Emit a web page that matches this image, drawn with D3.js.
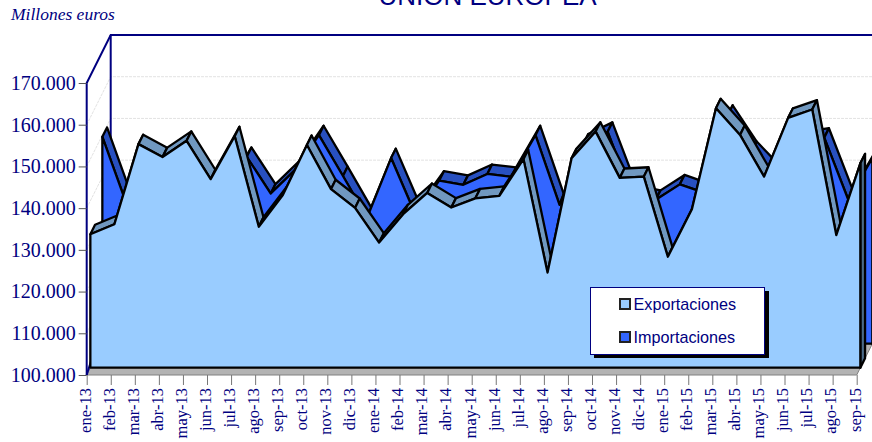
<!DOCTYPE html>
<html><head><meta charset="utf-8">
<script src="https://cdnjs.cloudflare.com/ajax/libs/d3/7.8.5/d3.min.js"></script>
<style>html,body{margin:0;padding:0;background:#fff}svg{display:block}</style>
</head><body><svg id="c" width="872" height="442"></svg>
<script>
const months=["ene-13","feb-13","mar-13","abr-13","may-13","jun-13","jul-13","ago-13","sep-13","oct-13","nov-13","dic-13","ene-14","feb-14","mar-14","abr-14","may-14","jun-14","jul-14","ago-14","sep-14","oct-14","nov-14","dic-14","ene-15","feb-15","mar-15","abr-15","may-15","jun-15","jul-15","ago-15","sep-15"];
const exportaciones=[132000,134400,153600,150500,154400,145200,155500,133800,141400,153400,142800,138300,130000,136800,141900,138400,140600,141200,150000,122800,150200,156600,145500,145800,126600,138000,162200,155800,145800,159900,161900,131800,149000];
const importaciones=[149600,133600,140000,142000,142000,135000,144800,136000,141600,150000,140200,130200,144500,131100,139100,138100,140700,140000,150000,133300,148000,150800,135700,134500,138200,136200,154900,146200,140200,148500,149400,134500,144500];
const yTicks=[100000,110000,120000,130000,140000,150000,160000,170000];
const NAVY="#000080";
const svg=d3.select("#c");
const x=d3.scalePoint().domain(months).range([86.7,856.7]);
const y=d3.scaleLinear().domain([100000,170000]).range([375,83]);
const depthX=24,depthY=-48;
const pt=(m,v,d)=>[x(m)+depthX*d,y(v)+depthY*d];
const fmt=d3.formatLocale({decimal:",",thousands:".",grouping:[3],currency:["","€"]}).format(",d");
const poly=a=>"M"+a.map(p=>p.join(",")).join("L")+"Z";
const vMin=y.domain()[0],vMax=y.domain()[1],m0=months[0],mN=months[months.length-1];

// floor
svg.append("path").attr("d",poly([pt(m0,vMin,0),pt(mN,vMin,0),pt(mN,vMin,1),pt(m0,vMin,1)])).attr("fill","#b3b3b3").attr("stroke","#808080").attr("stroke-width",1);

// grid on back wall and side wall
const grid=svg.append("g").attr("fill","none").attr("stroke","#e2e2e2").attr("stroke-width",1).attr("stroke-dasharray","3,1");
yTicks.slice(1,-1).forEach(t=>{
  grid.append("path").attr("d",d3.line()([pt(m0,t,0),pt(m0,t,1),pt(mN,t,1)]));
});

// frame
svg.append("path").attr("d",d3.line()([pt(m0,vMin,0),pt(m0,vMax,0),pt(m0,vMax,1),pt(mN,vMax,1)])).attr("fill","none").attr("stroke",NAVY).attr("stroke-width",2);
svg.append("path").attr("d",d3.line()([pt(m0,vMax,1),pt(m0,vMin,1)])).attr("fill","none").attr("stroke",NAVY).attr("stroke-width",2);
svg.append("path").attr("d",d3.line()([pt(m0,vMin,0),pt(m0,vMin+1800,1/4)])).attr("fill","none").attr("stroke",NAVY).attr("stroke-width",2);

function series(vals,d0,d1,front,side,end){
  const g=svg.append("g").attr("stroke","#000").attr("stroke-width",2.3).attr("stroke-linejoin","round");
  const segs=d3.pairs(months.map((m,i)=>({m,v:vals[i]})));
  g.selectAll("path.r").data(segs).join("path").attr("class","r").attr("fill",side)
    .attr("d",([a,b])=>poly([pt(a.m,a.v,d0),pt(b.m,b.v,d0),pt(b.m,b.v,d1),pt(a.m,a.v,d1)]));
  const last=vals[vals.length-1];
  g.append("path").attr("fill",end).attr("d",poly([pt(mN,last,d0),pt(mN,last,d1),pt(mN,vMin,d1),pt(mN,vMin,d0)]));
  const area=d3.area().x(d=>pt(d.m,d.v,d0)[0]).y0(pt(m0,vMin,d0)[1]).y1(d=>pt(d.m,d.v,d0)[1]);
  g.append("path").attr("fill",front).attr("d",area(months.map((m,i)=>({m,v:vals[i]}))));
}
series(importaciones,0.652,0.848,"#3366FF","#2850C0","#1c3a90");
series(exportaciones,0.152,0.348,"#99CCFF","#7098C0","#4a6a88");

// axes
const ax=svg.append("g").attr("transform",`translate(86.7,0)`).call(d3.axisLeft(y).tickValues(yTicks).tickFormat(fmt).tickSize(8).tickPadding(3));
ax.select(".domain").remove();
ax.selectAll("line").attr("stroke","#555").attr("stroke-width",1);
ax.selectAll("text").attr("font-family","'Liberation Serif',serif").attr("font-size",20).attr("fill",NAVY);
const bx=svg.append("g").attr("transform",`translate(0,375)`).call(d3.axisBottom(x).tickSize(10).tickPadding(0));
bx.select(".domain").remove();
bx.selectAll("line").attr("stroke","#777").attr("stroke-width",1);
bx.selectAll("text").attr("font-family","'Liberation Serif',serif").attr("font-size",16.5).attr("fill",NAVY)
  .attr("text-anchor","end").attr("transform","rotate(-90)").attr("x",-13).attr("y",0).attr("dy","0.2em");

// titles
svg.append("text").attr("x",487.5).attr("y",5).attr("text-anchor","middle").attr("font-family","'Liberation Sans',sans-serif").attr("font-size",26).attr("fill",NAVY).text("UNION EUROPEA");
svg.append("text").attr("x",11).attr("y",20).attr("font-family","'Liberation Serif',serif").attr("font-style","italic").attr("font-size",17.5).attr("fill",NAVY).text("Millones euros");

// legend
const lg=svg.append("g").attr("transform","translate(590,287)");
lg.append("rect").attr("x",4).attr("y",4).attr("width",175).attr("height",67).attr("fill","#000");
lg.append("rect").attr("x",.5).attr("y",.5).attr("width",174).attr("height",67).attr("fill","#fff").attr("stroke",NAVY);
[["Exportaciones","#99CCFF",17],["Importaciones","#3366FF",50]].forEach(([t,c,yy])=>{
  lg.append("rect").attr("x",30).attr("y",yy-5).attr("width",10).attr("height",10).attr("fill",c).attr("stroke","#222").attr("stroke-width",2);
  lg.append("text").attr("x",43.5).attr("y",yy+5.5).attr("font-family","'Liberation Sans',sans-serif").attr("font-size",16.2).attr("fill",NAVY).text(t);
});
</script></body></html>
